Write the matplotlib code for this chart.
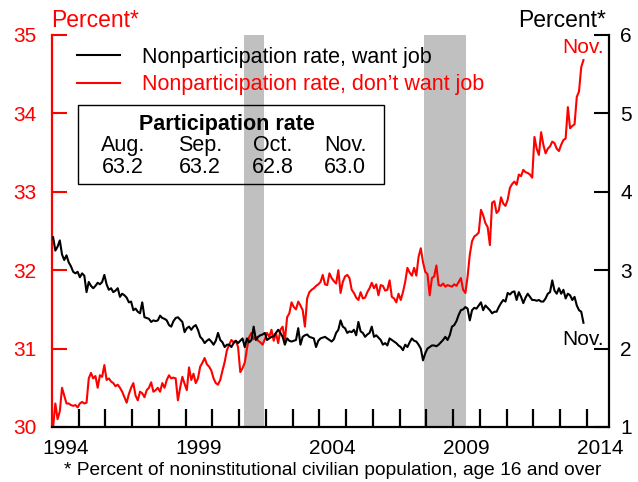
import numpy as np
import matplotlib
matplotlib.use('Agg')
import matplotlib.pyplot as plt
from matplotlib.patches import Rectangle

plt.rcParams['font.family'] = ['Liberation Sans', 'DejaVu Sans']

# Monthly data, Jan 1994 - Nov 2013 (percent of noninstitutional civilian population)
dont_want_job = [
    30.00, 30.30, 30.10, 30.20, 30.50, 30.40, 30.30, 30.30, 30.28, 30.27, 30.28, 30.25,  # 1994
    30.30, 30.32, 30.30, 30.31, 30.62, 30.69, 30.62, 30.65, 30.50, 30.66, 30.64, 30.79,  # 1995
    30.60, 30.62, 30.58, 30.56, 30.52, 30.54, 30.50, 30.45, 30.38, 30.31, 30.42, 30.50,  # 1996
    30.56, 30.40, 30.34, 30.45, 30.43, 30.38, 30.47, 30.50, 30.57, 30.45, 30.47, 30.50,  # 1997
    30.45, 30.56, 30.50, 30.60, 30.66, 30.62, 30.63, 30.62, 30.34, 30.50, 30.64, 30.55,  # 1998
    30.47, 30.76, 30.60, 30.68, 30.56, 30.62, 30.77, 30.82, 30.88, 30.80, 30.77, 30.72,  # 1999
    30.62, 30.56, 30.54, 30.60, 30.72, 30.83, 30.98, 31.05, 31.11, 31.08, 31.10, 31.02,  # 2000
    30.70, 30.75, 30.82, 31.00, 31.15, 31.20, 31.12, 31.15, 31.10, 31.08, 31.05, 31.12,  # 2001
    31.20, 31.15, 31.24, 31.10, 31.20, 31.07, 31.24, 31.28, 31.10, 31.40, 31.45, 31.59,  # 2002
    31.53, 31.50, 31.60, 31.55, 31.49, 31.28, 31.64, 31.72, 31.75, 31.77, 31.80, 31.82,  # 2003
    31.85, 31.94, 31.82, 31.81, 31.96, 31.90, 31.86, 31.83, 32.00, 31.71, 31.85, 31.92,  # 2004
    31.94, 31.90, 31.75, 31.71, 31.65, 31.62, 31.72, 31.64, 31.65, 31.72, 31.77, 31.84,  # 2005
    31.77, 31.82, 31.68, 31.81, 31.80, 31.74, 31.75, 31.87, 31.66, 31.64, 31.59, 31.70,  # 2006
    31.62, 31.72, 31.85, 32.03, 31.97, 31.93, 32.03, 31.93, 32.17, 32.28, 32.10, 31.98,  # 2007
    31.95, 31.68, 31.90, 31.92, 32.06, 31.81, 31.80, 31.83, 31.79, 31.81, 31.80, 31.79,  # 2008
    31.82, 31.80, 31.85, 31.90, 31.75, 31.71, 31.92, 32.20, 32.37, 32.43, 32.45, 32.48,  # 2009
    32.77, 32.70, 32.60, 32.55, 32.32, 32.86, 32.88, 32.73, 32.76, 32.93, 32.85, 32.82,  # 2010
    32.90, 33.05, 33.10, 33.13, 33.09, 33.22, 33.20, 33.28, 33.25, 33.24, 33.22, 33.18,  # 2011
    33.70, 33.55, 33.47, 33.76, 33.60, 33.49, 33.55, 33.58, 33.64, 33.62, 33.55, 33.52,  # 2012
    33.60, 33.66, 33.68, 34.08, 33.81, 33.84, 33.86, 34.21, 34.28, 34.59, 34.68,         # 2013
]

want_job = [
    3.42, 3.25, 3.30, 3.38, 3.20, 3.13, 3.19, 3.10, 3.05, 2.98, 2.96, 2.98,  # 1994
    2.91, 2.96, 2.93, 2.72, 2.85, 2.80, 2.77, 2.80, 2.84, 2.82, 2.85, 2.94,  # 1995
    2.82, 2.75, 2.77, 2.72, 2.74, 2.77, 2.66, 2.70, 2.68, 2.65, 2.59, 2.60,  # 1996
    2.49, 2.51, 2.47, 2.45, 2.59, 2.40, 2.39, 2.38, 2.34, 2.36, 2.35, 2.36,  # 1997
    2.42, 2.39, 2.38, 2.36, 2.30, 2.28, 2.35, 2.39, 2.40, 2.37, 2.34, 2.21,  # 1998
    2.26, 2.28, 2.24, 2.28, 2.30, 2.24, 2.15, 2.12, 2.07, 2.10, 2.12, 2.09,  # 1999
    2.05, 2.10, 2.20, 2.11, 2.08, 2.02, 2.05, 2.05, 2.02, 2.07, 2.10, 2.07,  # 2000
    2.10, 2.13, 2.02, 2.13, 2.08, 2.11, 2.28, 2.11, 2.15, 2.17, 2.18, 2.20,  # 2001
    2.11, 2.13, 2.15, 2.16, 2.20, 2.24, 2.20, 2.15, 2.05, 2.13, 2.10, 2.09,  # 2002
    2.10, 2.11, 2.26, 2.05, 2.15, 2.17, 2.18, 2.15, 2.14, 2.13, 2.02, 2.10,  # 2003
    2.13, 2.14, 2.15, 2.13, 2.11, 2.09, 2.12, 2.20, 2.24, 2.36, 2.28, 2.26,  # 2004
    2.20, 2.22, 2.21, 2.24, 2.17, 2.34, 2.22, 2.20, 2.15, 2.18, 2.20, 2.28,  # 2005
    2.15, 2.17, 2.14, 2.11, 2.05, 2.07, 2.04, 2.13, 2.11, 2.09, 2.07, 2.04,  # 2006
    2.02, 1.98, 2.05, 2.02, 2.08, 2.13, 2.10, 2.09, 2.05, 2.00, 1.85, 1.94,  # 2007
    2.00, 2.02, 2.04, 2.04, 2.03, 2.05, 2.08, 2.11, 2.15, 2.11, 2.17, 2.28,  # 2008
    2.30, 2.35, 2.43, 2.49, 2.50, 2.53, 2.51, 2.36, 2.49, 2.52, 2.51, 2.55,  # 2009
    2.59, 2.49, 2.55, 2.52, 2.49, 2.45, 2.47, 2.47, 2.53, 2.58, 2.62, 2.60,  # 2010
    2.71, 2.69, 2.72, 2.73, 2.62, 2.72, 2.66, 2.58, 2.65, 2.70, 2.66, 2.62,  # 2011
    2.62, 2.61, 2.62, 2.60, 2.60, 2.64, 2.70, 2.72, 2.87, 2.74, 2.70, 2.77,  # 2012
    2.70, 2.75, 2.64, 2.70, 2.68, 2.62, 2.66, 2.55, 2.49, 2.47, 2.33,        # 2013
]

start_year = 1994
recessions = [(2001 + 2 / 12, 2001 + 11 / 12), (2007 + 11 / 12, 2009 + 6 / 12)]
year_labels = ['1994', '1999', '2004', '2009', '2014']
legend_labels = ['Nonparticipation rate, want job', 'Nonparticipation rate, don\u2019t want job']
box_title = 'Participation rate'
box_months = ['Aug.', 'Sep.', 'Oct.', 'Nov.']
box_rates = ['63.2', '63.2', '62.8', '63.0']
footnote = '* Percent of noninstitutional civilian population, age 16 and over'

RED = '#ff0000'
FS = 15

x = start_year + (np.arange(len(dont_want_job)) + 0.5) / 12

fig = plt.figure(figsize=(6.38, 4.82), dpi=100)
ax = fig.add_axes([52 / 638, 55 / 482, 557 / 638, 392 / 482])
ax2 = ax.twinx()

for a, b in recessions:
    ax.axvspan(a, b, color='#c0c0c0', lw=0, zorder=0)

l_red, = ax.plot(x, dont_want_job, color=RED, lw=1.5, zorder=2)
l_blk, = ax2.plot(x[:len(want_job)], want_job, color='black', lw=1.5, zorder=3)

ax.set_xlim(1994, 2014.83)
ax.set_ylim(30, 35)
ax2.set_ylim(1, 6)

# x ticks: year boundaries (no labels), labels at mid-year
ax.set_xticks(np.arange(1995, 2015))
ax.set_xticklabels([])
ax.set_xticks([int(y) + 0.5 for y in year_labels], minor=True)
ax.set_xticklabels(year_labels, minor=True)
ax.tick_params(axis='x', which='major', direction='in', length=13, width=1.6, color='black')
ax.tick_params(axis='x', which='minor', length=0, pad=9, labelsize=FS)

ax.set_yticks(np.arange(30, 36))
ax.tick_params(axis='y', direction='in', length=10.5, width=1.5, color=RED, labelcolor=RED,
               labelsize=FS, pad=11)
ax2.set_yticks(np.arange(1, 7))
ax2.tick_params(axis='y', direction='in', length=11, width=1.5, color='black', labelcolor='black',
                labelsize=FS, pad=8)

for a in (ax, ax2):
    a.spines['top'].set_visible(False)
ax.spines['left'].set_color(RED)
ax.spines['left'].set_linewidth(1.6)
ax.spines['bottom'].set_linewidth(1.6)
ax.spines['right'].set_visible(False)
ax2.spines['left'].set_visible(False)
ax2.spines['bottom'].set_visible(False)
ax2.spines['right'].set_linewidth(1.6)

# axis unit labels
fig.text(51 / 638, 1 - 27 / 482, 'Percent*', color=RED, fontsize=16.5, ha='left', va='baseline')
fig.text(606 / 638, 1 - 27 / 482, 'Percent*', color='black', fontsize=16.5, ha='right', va='baseline')

# legend
leg = ax2.legend([l_blk, l_red], legend_labels, loc='upper left',
                 bbox_to_anchor=(77 / 638, 1 - 47 / 482), bbox_transform=fig.transFigure,
                 frameon=False, fontsize=15.5, handlelength=2.0, handletextpad=1.0,
                 labelspacing=0.3, borderpad=0, borderaxespad=0)
leg.get_texts()[1].set_color(RED)

# end-point annotations
ax.annotate('Nov.', xy=(x[len(dont_want_job) - 1], dont_want_job[-1]), xytext=(0, 2),
            textcoords='offset points', ha='center', va='bottom', color=RED, fontsize=FS)
ax2.annotate('Nov.', xy=(x[len(want_job) - 1], want_job[-1]), xytext=(0, -5),
             textcoords='offset points', ha='center', va='top', color='black', fontsize=FS)

# participation-rate box
fig.patches.append(Rectangle((78 / 638, 1 - 184 / 482), 306 / 638, 79 / 482,
                             transform=fig.transFigure, fill=False, edgecolor='black', lw=1.0))
fig.text(226.5 / 638, 1 - 130 / 482, box_title, fontsize=15.5, fontweight='bold',
         ha='center', va='baseline')
col_x = [123, 200, 272.5, 345]
for cx, m, r in zip(col_x, box_months, box_rates):
    fig.text(cx / 638, 1 - 151 / 482, m, fontsize=15.5, ha='center', va='baseline')
    fig.text(cx / 638, 1 - 173 / 482, r, fontsize=15.5, ha='center', va='baseline')

fig.text(601 / 638, 1 - 475 / 482, footnote, fontsize=13.8, ha='right', va='baseline')

fig.savefig('out.png', dpi=100)
